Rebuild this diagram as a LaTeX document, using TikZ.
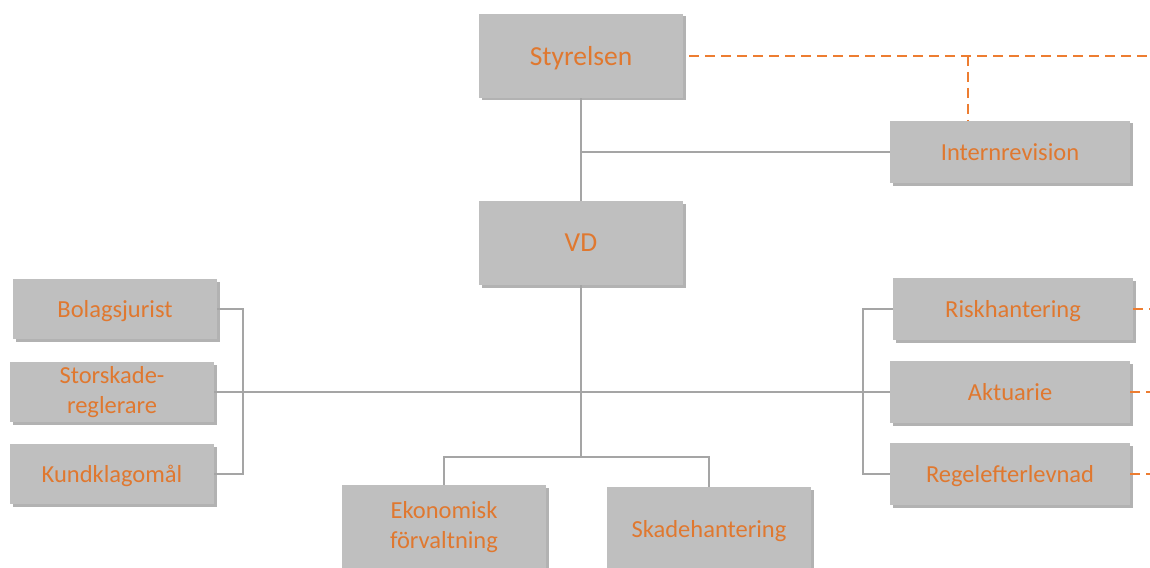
\documentclass[tikz,border=0pt]{standalone}
\usepackage{fontspec}
\setmainfont{Carlito}
\usetikzlibrary{shadows}
\definecolor{boxgray}{HTML}{BFBFBF}
\definecolor{linegray}{HTML}{A5A5A5}
\definecolor{txtorange}{HTML}{E0782F}
\definecolor{dashorange}{HTML}{ED7D31}
\begin{document}
\begin{tikzpicture}[x=1pt,y=-1pt,
  box/.style={fill=boxgray, draw=none, text=txtorange, inner sep=0pt, align=center,
    font=\fontsize{24.5}{29.5}\selectfont,
    drop shadow={shadow xshift=2.5pt, shadow yshift=-2.5pt, opacity=0.3, fill=black}},
  one/.style={text depth=0pt},
  big/.style={box, minimum width=204pt, minimum height=84pt},
  small/.style={box, minimum width=240pt, minimum height=62pt},
  side/.style={box, minimum width=204pt, minimum height=60pt},
  bigfont/.style={font=\fontsize{27.5}{33}\selectfont},
  conn/.style={draw=linegray, line width=2pt},
  dashlink/.style={draw=dashorange, line width=2pt, dash pattern=on 10pt off 6pt}]
\useasboundingbox (0,0) rectangle (1150,567);
\fill[white] (0,0) rectangle (1150,567);
% nodes
\node[big, bigfont, one] (sty) at (581,56) {Styrelsen};
\node[small, one] (int) at (1010,152) {Internrevision};
\node[big, bigfont, one] (vd) at (581,243) {VD};
\node[side, one] (bol) at (115,309) {Bolagsjurist};
\node[side] (sto) at (112,392) {Storskade-\\reglerare};
\node[side, one] (kun) at (112,474) {Kundklagomål};
\node[small, one] (ris) at (1013,309) {Riskhantering};
\node[small, one] (akt) at (1010,392) {Aktuarie};
\node[small, one] (reg) at (1010,474) {Regelefterlevnad};
\node[big] (eko) at (444,527) {Ekonomisk\\förvaltning};
\node[big, one] (ska) at (709,529) {Skadehantering};
% coordinates
\coordinate (j1) at (581,152);
\coordinate (bj) at (581,457);
\coordinate (lb) at (243,392);
\coordinate (rb) at (863,392);
\coordinate (e1) at (1150,56);
\coordinate (d1) at (968,56);
% solid connectors
\draw[conn] (sty.south) -- (vd.north);
\draw[conn] (j1) -- (int.west);
\draw[conn] (vd.south) -- (bj);
\draw[conn] (eko.north) |- (bj) -| (ska.north);
\draw[conn] (sto.east) -- (akt.west);
\draw[conn] (bol.east) -| (lb) |- (kun.east);
\draw[conn] (ris.west) -| (rb) |- (reg.west);
% dashed connectors
\draw[dashlink] ([xshift=6pt]sty.east) -- (e1);
\draw[dashlink] (d1) -- (d1 |- int.north);
\draw[dashlink] (ris.east) -- (ris.east -| e1);
\draw[dashlink] (akt.east) -- (akt.east -| e1);
\draw[dashlink] (reg.east) -- (reg.east -| e1);
\end{tikzpicture}
\end{document}
